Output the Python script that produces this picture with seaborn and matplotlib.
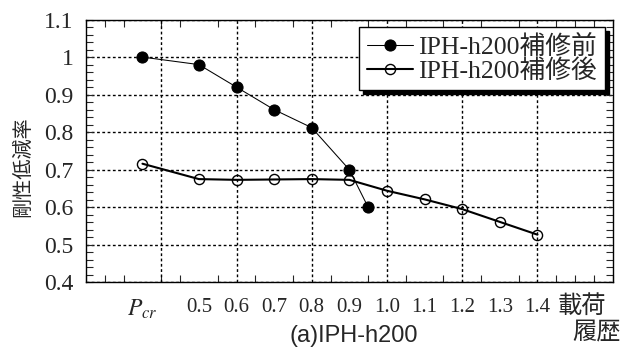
import matplotlib
matplotlib.use("Agg")
import matplotlib.pyplot as plt
import seaborn as sns
import numpy as np
from matplotlib.ticker import MultipleLocator, FixedLocator, NullFormatter

# ---- data ----
tick_pos = [0.35, 0.5, 0.6, 0.7, 0.8, 0.9, 1.0, 1.1, 1.2, 1.3, 1.4]
tick_labels = ["$P_{cr}$", "0.5", "0.6", "0.7", "0.8", "0.9", "1.0", "1.1", "1.2", "1.3", "1.4"]
before_x = [0.35, 0.5, 0.6, 0.7, 0.8, 0.9, 0.95]
before_y = [1.0, 0.98, 0.92, 0.86, 0.812, 0.70, 0.60]
after_x = [0.35, 0.5, 0.6, 0.7, 0.8, 0.9, 1.0, 1.1, 1.2, 1.3, 1.4]
after_y = [0.716, 0.675, 0.673, 0.674, 0.675, 0.673, 0.644, 0.621, 0.595, 0.561, 0.527]
label_before = "IPH-h200補修前"
label_after = "IPH-h200補修後"

sns.set_style("ticks")
plt.rcParams["font.family"] = ["Liberation Serif", "Noto Sans CJK JP"]
plt.rcParams["mathtext.fontset"] = "stix"

fig = plt.figure(figsize=(6.28, 3.49), dpi=100)
ax = fig.add_axes([0.137, 0.191, 0.9756 - 0.137, 0.944 - 0.191])

sns.lineplot(x=before_x, y=before_y, ax=ax, color="black", linewidth=0.75,
             marker="o", markersize=8, markerfacecolor="black",
             markeredgecolor="black", label=label_before, sort=False, zorder=4)
sns.lineplot(x=after_x, y=after_y, ax=ax, color="black", linewidth=1.5,
             marker="o", markersize=7.3, markerfacecolor="none",
             markeredgecolor="black", markeredgewidth=1.0,
             label=label_after, sort=False, zorder=3)

ax.set_xlim(0.2, 1.6)
ax.set_ylim(0.4, 1.1)

# y ticks
ax.yaxis.set_minor_locator(MultipleLocator(0.02))
ax.set_yticks(np.round(np.arange(0.4, 1.101, 0.1), 1))
ax.set_yticklabels(["0.4", "0.5", "0.6", "0.7", "0.8", "0.9", "1", "1.1"])
ax.tick_params(axis="y", which="both", direction="in", left=True, right=True,
               length=5, width=0.8, labelsize=17, pad=9)
ax.grid(axis="y", which="major", linestyle=(0, (2, 1.8)), color="black", linewidth=1.0)

# x ticks
ax.xaxis.set_minor_locator(MultipleLocator(0.05))
ax.xaxis.set_minor_formatter(NullFormatter())
ax.xaxis.set_major_locator(FixedLocator(tick_pos))
ax.set_xticklabels(tick_labels)
ax.tick_params(axis="x", which="major", length=0, labelsize=15, pad=11)
ax.tick_params(axis="x", which="minor", direction="in", top=True, bottom=True,
               length=5, width=0.8)
ax.get_xticklabels()[0].set_fontsize(17)
for gx in np.arange(0.4, 1.41, 0.2):
    ax.axvline(gx, linestyle=(0, (2, 1.8)), color="black", linewidth=1.0, zorder=1)

for s in ax.spines.values():
    s.set_linewidth(1.0)
    s.set_color("black")

ax.set_xlabel("")
ax.set_ylabel("")

fig.text(23 / 628, 1 - 167 / 349, "剛性低減率", rotation=90, ha="center", va="center",
         fontsize=14.5, family=["Noto Sans CJK JP"])
fig.text(582 / 628, 1 - 306 / 349, "載荷", ha="center", va="center",
         fontsize=17.5, family=["Noto Sans CJK JP"])
fig.text(597 / 628, 1 - 331 / 349, "履歴", ha="center", va="center",
         fontsize=17.5, family=["Noto Sans CJK JP"])
fig.text(354 / 628, 1 - 336 / 349, "(a)IPH-h200", ha="center", va="center",
         fontsize=17, family=["Liberation Sans"])

leg = ax.legend(loc="upper right", bbox_to_anchor=(0.985, 0.971), borderaxespad=0,
                fancybox=False, edgecolor="black", framealpha=1,
                shadow={"ox": 3, "oy": -3, "color": "black", "alpha": 1},
                fontsize=18.5, labelspacing=0.0, handlelength=1.8, handletextpad=0.2,
                borderpad=0.3)
leg.get_frame().set_linewidth(1.0)

fig.savefig("out.png", dpi=100)
